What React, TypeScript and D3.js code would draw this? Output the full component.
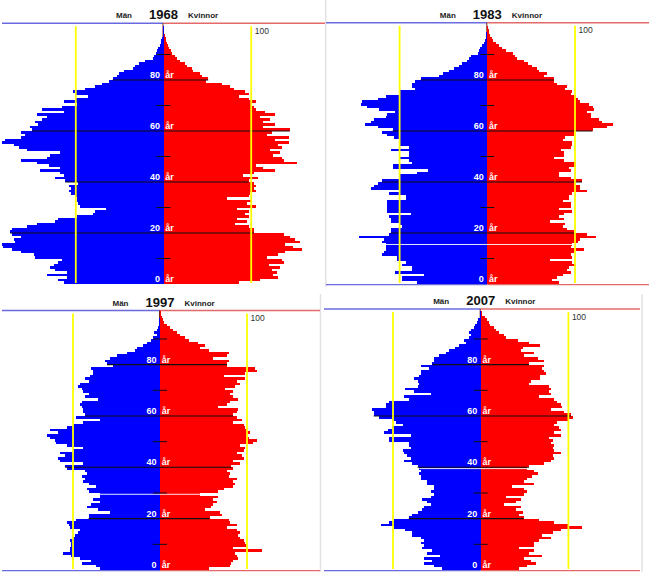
import React from 'react';
import * as d3 from 'd3';

// ---------- data (index = age 0..100), units: yellow reference line = 100 ----------
const years = ['1968', '1983', '1997', '2007'];
const cohortBirthYear = 1968;
const labelAges = [0, 20, 40, 60, 80];
const tickAges = [10, 30, 50, 70, 90];
const referenceValue = 100;
const referenceLabel = '100';
const menLabel = 'Män';
const womenLabel = 'Kvinnor';
const ageUnit = 'år';

const men1968 = [
  114, 120, 110, 133, 110, 124, 129, 125, 120, 116,
  146, 148, 163, 173, 183, 184, 169, 171, 163, 173,
  175, 173, 156, 144, 124, 120, 99, 80, 78, 65,
  95, 97, 99, 99, 101, 106, 108, 105, 108, 97,
  112, 124, 114, 118, 141, 118, 131, 144, 162, 133,
  129, 118, 156, 165, 171, 184, 181, 163, 158, 162,
  150, 152, 143, 146, 139, 133, 144, 114, 139, 116,
  99, 114, 101, 86, 101, 103, 90, 78, 70, 62,
  58, 53, 51, 45, 35, 33, 28, 21, 12, 11,
  9, 7, 6, 4, 3, 3, 2, 1, 0.5, 0.3, 0.2,
];
const women1968 = [
  86, 110, 131, 125, 129, 124, 133, 120, 137, 135,
  118, 131, 139, 158, 148, 139, 156, 150, 144, 137,
  103, 103, 97, 82, 95, 84, 97, 93, 97, 84,
  105, 95, 101, 72, 97, 99, 105, 103, 106, 103,
  97, 108, 91, 103, 127, 114, 105, 152, 137, 135,
  125, 133, 122, 135, 131, 143, 127, 143, 118, 124,
  144, 114, 127, 114, 122, 110, 127, 116, 105, 103,
  101, 106, 97, 86, 97, 93, 80, 76, 67, 49,
  51, 44, 42, 34, 32, 27, 25, 19, 15, 13,
  10, 8, 6, 5, 4, 3, 2.5, 2, 1, 0.5, 0.3,
];
const men1983 = [
  80, 97, 97, 72, 105, 86, 86, 97, 93, 103,
  103, 120, 118, 116, 116, 116, 120, 118, 146, 112,
  110, 110, 97, 99, 110, 110, 112, 87, 114, 114,
  114, 114, 114, 93, 93, 112, 99, 133, 129, 125,
  120, 99, 99, 80, 68, 108, 108, 86, 89, 99,
  89, 89, 110, 89, 101, 101, 101, 106, 114, 120,
  108, 125, 139, 133, 129, 116, 114, 105, 124, 137,
  144, 143, 125, 116, 99, 99, 82, 86, 86, 82,
  76, 55, 51, 44, 38, 32, 29, 23, 21, 19,
  11, 10, 8, 6, 4, 2.5, 2, 1.5, 1, 0.5, 0.3,
];
const women1983 = [
  82, 74, 80, 86, 95, 91, 93, 101, 97, 72,
  97, 95, 99, 110, 95, 97, 103, 106, 124, 114,
  99, 91, 86, 89, 72, 87, 82, 87, 97, 82,
  95, 95, 86, 93, 93, 97, 114, 106, 106, 101,
  108, 95, 82, 82, 95, 93, 101, 101, 87, 76,
  87, 87, 84, 95, 97, 97, 86, 89, 99, 99,
  120, 137, 143, 131, 127, 118, 118, 114, 122, 120,
  116, 106, 103, 101, 95, 97, 89, 91, 80, 76,
  76, 65, 68, 59, 57, 51, 46, 42, 34, 32,
  29, 21, 17, 13, 10, 7, 5, 3.5, 2.5, 1.5, 1,
];
const men1997 = [
  69, 73, 90, 79, 92, 102, 111, 103, 103, 102,
  102, 103, 100, 98, 94, 92, 103, 105, 107, 96,
  82, 82, 57, 71, 84, 79, 69, 77, 69, 69,
  82, 84, 73, 82, 88, 86, 90, 84, 86, 107,
  109, 88, 115, 117, 109, 115, 100, 88, 107, 119,
  121, 126, 130, 117, 126, 107, 100, 88, 69, 96,
  86, 88, 88, 90, 92, 90, 71, 86, 82, 88,
  90, 94, 92, 82, 86, 80, 77, 77, 79, 54,
  61, 63, 57, 50, 38, 29, 27, 19, 15, 10,
  8, 4, 7, 3, 2, 1.5, 1, 0.7, 0.5, 0.3, 0.2,
];
const women1997 = [
  56, 80, 82, 84, 90, 88, 86, 117, 84, 100,
  98, 96, 92, 90, 92, 88, 77, 88, 80, 79,
  57, 71, 69, 52, 59, 61, 65, 61, 67, 46,
  67, 73, 84, 86, 84, 88, 79, 80, 77, 84,
  82, 92, 84, 96, 94, 88, 96, 98, 92, 107,
  111, 102, 100, 103, 100, 98, 96, 84, 94, 88,
  84, 88, 90, 67, 77, 80, 90, 84, 80, 84,
  75, 86, 92, 88, 98, 73, 98, 111, 109, 77,
  77, 79, 61, 77, 79, 56, 46, 52, 44, 33,
  29, 23, 19, 15, 11, 8, 5, 3, 2, 1.5, 1,
];
const men2007 = [
  44, 53, 65, 55, 65, 46, 61, 55, 67, 65,
  68, 65, 68, 78, 78, 86, 99, 114, 105, 99,
  82, 78, 72, 67, 65, 57, 61, 67, 57, 53,
  57, 53, 53, 61, 61, 68, 68, 70, 68, 70,
  72, 78, 87, 80, 84, 87, 89, 80, 82, 82,
  105, 105, 80, 110, 106, 101, 89, 97, 101, 116,
  122, 122, 124, 108, 108, 105, 82, 87, 57, 76,
  86, 72, 70, 72, 76, 70, 68, 68, 59, 68,
  55, 53, 53, 48, 40, 36, 29, 25, 17, 19,
  13, 11, 13, 11, 8, 6, 4, 3, 1, 0.5, 0.3,
];
const women2007 = [
  44, 53, 63, 57, 49, 70, 55, 61, 44, 61,
  61, 67, 80, 70, 82, 91, 116, 101, 84, 67,
  49, 44, 48, 40, 46, 27, 40, 46, 29, 49,
  53, 49, 36, 61, 49, 53, 59, 65, 61, 53,
  55, 72, 80, 84, 82, 91, 84, 82, 84, 80,
  82, 78, 91, 84, 91, 89, 84, 87, 101, 105,
  103, 95, 80, 93, 91, 87, 84, 67, 80, 78,
  80, 78, 55, 57, 68, 68, 74, 72, 70, 72,
  55, 72, 65, 49, 61, 46, 48, 68, 55, 42,
  29, 27, 21, 17, 15, 11, 10, 7, 5, 2, 1,
];

const menSeries = [men1968, men1983, men1997, men2007];
const womenSeries = [women1968, women1983, women1997, women2007];

// ---------- layout (pixel geometry of the four screenshots) ----------
type Layout = {
  cx: number; unit: number; bottom: number; ppy: number; headerY: number;
  lineX0: number; lineX1: number; bottomLine: boolean;
  border: null | { x: number; y0: number; y1: number };
};
const layouts: Layout[] = [
  { cx: 163.5, unit: 0.877, bottom: 284, ppy: 2.55, headerY: 23.3, lineX0: 2, lineX1: 325, bottomLine: false, border: { x: 325.7, y0: 0, y1: 287 } },
  { cx: 487.3, unit: 0.877, bottom: 284, ppy: 2.55, headerY: 22.7, lineX0: 326, lineX1: 649, bottomLine: true, border: null },
  { cx: 160, unit: 0.87, bottom: 570, ppy: 2.567, headerY: 310.5, lineX0: 2, lineX1: 320, bottomLine: true, border: { x: 320.5, y0: 294, y1: 572 } },
  { cx: 480.7, unit: 0.877, bottom: 570, ppy: 2.567, headerY: 309, lineX0: 324, lineX1: 640, bottomLine: true, border: { x: 642, y0: 294, y1: 572 } },
];

const BLUE = '#0000ff';
const RED = '#ff0000';
const LINE_BLUE = '#6a6ae0';
const LINE_RED = '#e46a6a';
const YELLOW = '#ffff00';
const FONT = '"Liberation Sans", Arial, sans-serif';

function Panel({ idx }: { idx: number }) {
  const L = layouts[idx];
  const men = menSeries[idx];
  const women = womenSeries[idx];
  const year = years[idx];
  const ages = d3.range(men.length);

  const xs = d3.scaleLinear().domain([0, 100]).range([0, 100 * L.unit]);
  const y = d3.scaleLinear().domain([0, 101]).range([L.bottom, L.bottom - 101 * L.ppy]);

  const cohortAge = +year - cohortBirthYear;
  const yellowL = L.cx - xs(referenceValue);
  const yellowR = L.cx + xs(referenceValue);
  const topAge = 96;

  return (
    <g>
      {L.border && (
        <line x1={L.border.x} x2={L.border.x} y1={L.border.y0} y2={L.border.y1} stroke="#e2e2e2" strokeWidth={1.5} />
      )}
      {/* header line */}
      <line x1={L.lineX0} x2={L.cx} y1={L.headerY} y2={L.headerY} stroke={LINE_BLUE} strokeWidth={1.4} />
      <line x1={L.cx} x2={L.lineX1} y1={L.headerY} y2={L.headerY} stroke={LINE_RED} strokeWidth={1.4} />
      {L.bottomLine && (
        <g>
          <line x1={L.lineX0} x2={L.cx} y1={L.bottom + 0.6} y2={L.bottom + 0.6} stroke={LINE_BLUE} strokeWidth={1.3} />
          <line x1={L.cx} x2={L.lineX1} y1={L.bottom + 0.6} y2={L.bottom + 0.6} stroke={LINE_RED} strokeWidth={1.3} />
        </g>
      )}
      {/* central axis above the bars */}
      <line x1={L.cx - 0.5} x2={L.cx - 0.5} y1={L.headerY} y2={y(topAge)} stroke="#7a1f1f" strokeWidth={1} />
      {/* bars */}
      <g shapeRendering="crispEdges">
        {ages.map((a) => (
          <rect key={'m' + a} x={L.cx - xs(men[a])} y={y(a + 1)} width={xs(men[a])} height={y(a) - y(a + 1)} fill={BLUE} />
        ))}
        {ages.map((a) => (
          <rect key={'w' + a} x={L.cx} y={y(a + 1)} width={xs(women[a])} height={y(a) - y(a + 1)} fill={RED} />
        ))}
      </g>
      {/* 1968 cohort marker */}
      {cohortAge > 0 && (
        <line x1={L.cx - xs(men[cohortAge])} x2={L.cx + xs(women[cohortAge])} y1={y(cohortAge + 0.5)} y2={y(cohortAge + 0.5)} stroke="#ffffff" strokeWidth={0.9} />
      )}
      {/* decade lines */}
      {labelAges.filter((a) => a > 0).map((a) => (
        <line key={'l' + a} x1={L.cx - xs(men[a])} x2={L.cx + xs(women[a])} y1={y(a)} y2={y(a)} stroke="#111" strokeWidth={1.1} />
      ))}
      {tickAges.map((a) => (
        <line key={'t' + a} x1={L.cx - 7} x2={L.cx + 7} y1={y(a)} y2={y(a)} stroke="#111" strokeWidth={1} />
      ))}
      {/* yellow reference lines */}
      <line x1={yellowL} x2={yellowL} y1={L.headerY + 3} y2={L.bottom - 1} stroke={YELLOW} strokeWidth={1.8} />
      <line x1={yellowR} x2={yellowR} y1={L.headerY + 3} y2={L.bottom - 1} stroke={YELLOW} strokeWidth={1.8} />
      <text x={yellowR + 3.5} y={L.headerY + 10.5} fontFamily={FONT} fontSize={8.5} fill="#333">{referenceLabel}</text>
      {/* age labels */}
      {labelAges.map((a) => (
        <g key={'a' + a} fontFamily={FONT} fontSize={9} fontWeight="bold" fill="#ffffff">
          <text x={L.cx - 3.5} y={y(a) - 2} textAnchor="end">{a}</text>
          <text x={L.cx + 1.8} y={y(a) - 2}>{ageUnit}</text>
        </g>
      ))}
      {/* header texts */}
      <text x={L.cx - 31.5} y={L.headerY - 5} textAnchor="end" fontFamily={FONT} fontSize={8} fontWeight="bold" fill="#222">{menLabel}</text>
      <text x={L.cx} y={L.headerY - 4} textAnchor="middle" fontFamily={FONT} fontSize={13} fontWeight="bold" fill="#111">{year}</text>
      <text x={L.cx + 24.5} y={L.headerY - 5} fontFamily={FONT} fontSize={8} fontWeight="bold" fill="#222">{womenLabel}</text>
    </g>
  );
}

export default function App() {
  return (
    <svg
      width={654}
      height={572}
      viewBox="0 0 654 572"
      style={{ position: 'absolute', left: 0, top: 0, background: '#ffffff' }}
    >
      <rect x={0} y={0} width={654} height={572} fill="#ffffff" />
      {years.map((yr, i) => (
        <Panel key={yr} idx={i} />
      ))}
    </svg>
  );
}
